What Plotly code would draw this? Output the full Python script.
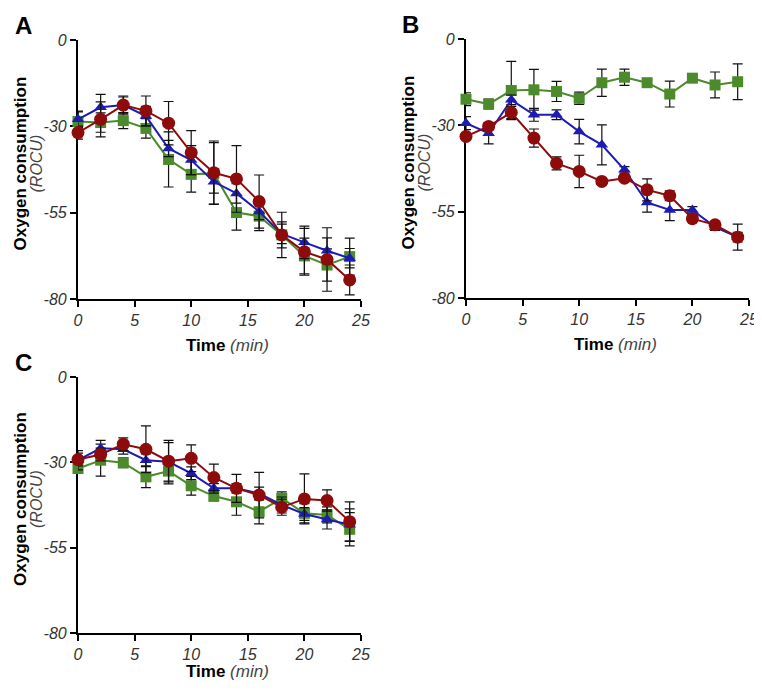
import plotly.graph_objects as go

# the page body keeps its default 8px margin, so the figure sits 8px in;
# keep the page from overflowing the 762x690 window
PAGE_W, PAGE_H, OFFSET = 762, 690, 8
W, H = PAGE_W - OFFSET, PAGE_H - 2 * OFFSET

time_min = [0, 2, 4, 6, 8, 10, 12, 14, 16, 18, 20, 22, 24]

# panel A
a_green = [-25.2, -25.5, -24.9, -27.3, -36.9, -41.5, -41.2, -53.3, -54.4, -60.2, -66.7, -69.5, -66.9]
a_green_err = [3.0, 3.0, 2.5, 3.0, 8.5, 5.5, 9.5, 5.4, 4.5, 4.0, 5.5, 5.0, 5.7]
a_blue = [-24.5, -20.8, -20.1, -23.5, -33.5, -37.1, -43.8, -47.4, -53.0, -59.9, -62.5, -65.1, -67.4]
a_blue_err = [2.5, 4.0, 2.5, 3.0, 2.5, 4.5, 3.5, 3.0, 2.5, 3.0, 5.0, 4.0, 3.0]
a_red = [-28.6, -24.5, -20.1, -21.9, -25.7, -34.8, -41.0, -42.9, -49.9, -60.2, -65.4, -67.8, -74.1]
a_red_err = [2.0, 5.4, 2.8, 4.6, 6.7, 6.8, 9.8, 10.3, 8.2, 7.0, 7.2, 9.8, 4.6]

# panel B
b_green = [-18.6, -20.1, -15.9, -15.7, -16.2, -18.3, -13.5, -11.8, -13.5, -17.0, -12.1, -14.2, -13.2]
b_green_err = [2.0, 1.5, 9.0, 6.3, 3.1, 1.9, 4.2, 2.5, 1.0, 4.0, 1.0, 4.0, 5.5]
b_blue = [-26.0, -29.1, -18.8, -23.4, -23.4, -28.6, -32.7, -40.4, -50.5, -52.8, -52.8, -58.1, -61.2]
b_blue_err = [2.0, 3.3, 1.5, 2.0, 1.5, 3.8, 6.2, 1.0, 3.0, 3.3, 1.0, 1.0, 1.5]
b_red = [-30.1, -27.0, -22.7, -30.6, -38.4, -40.9, -44.0, -43.0, -46.6, -48.4, -55.5, -57.4, -61.2]
b_red_err = [1.0, 1.0, 1.9, 2.8, 2.0, 5.0, 1.0, 1.0, 3.4, 1.5, 1.0, 1.0, 4.0]

# panel C
c_green = [-28.6, -26.0, -26.8, -31.2, -29.4, -34.0, -37.2, -39.0, -42.1, -37.9, -42.6, -43.1, -47.6]
c_green_err = [1.5, 5.0, 1.5, 3.4, 4.0, 2.9, 1.5, 4.2, 3.8, 2.0, 3.0, 2.5, 5.2]
c_blue = [-26.0, -22.3, -22.6, -26.0, -26.5, -30.1, -34.8, -34.8, -36.4, -40.0, -42.8, -44.5, -46.2]
c_blue_err = [3.0, 2.5, 1.5, 2.0, 6.0, 2.0, 1.5, 1.5, 2.0, 2.5, 2.0, 3.0, 5.0]
c_red = [-25.8, -24.2, -21.0, -22.6, -26.3, -25.4, -31.4, -34.8, -36.9, -40.7, -38.1, -38.6, -45.2]
c_red_err = [2.0, 2.0, 2.0, 7.3, 6.5, 4.2, 4.2, 4.4, 7.1, 2.5, 7.8, 3.3, 6.2]

x_ticks = [0, 5, 10, 15, 20, 25]
y_tick_text = ["0", "-30", "-55", "-80"]
y_tick_vals = [0, -80 / 3, -160 / 3, -80]

GREEN = "#4b8b2b"
BLUE = "#1c1cb4"
RED = "#8e0b0b"
FONT = "Liberation Sans, Arial, sans-serif"

# plot areas in page pixels: (left, right, top, bottom), x-title centre y
panels = {
    "A": ((78, 361, 40, 299, 345), (a_green, a_green_err), (a_blue, a_blue_err), (a_red, a_red_err)),
    "B": ((466, 749, 39, 298, 344), (b_green, b_green_err), (b_blue, b_blue_err), (b_red, b_red_err)),
    "C": ((78, 361, 377, 633, 671), (c_green, c_green_err), (c_blue, c_blue_err), (c_red, c_red_err)),
}


def px(x):
    return (x - OFFSET) / W


def py(y):
    return 1 - (y - OFFSET) / H


fig = go.Figure()
annotations = []

for i, (letter, (box, green, blue, red)) in enumerate(panels.items()):
    suffix = "" if i == 0 else str(i + 1)
    xa = "x" + suffix
    ya = "y" + suffix
    left, right, top, bottom, title_y = box
    styles = (
        (green, GREEN, "square", 11),
        (blue, BLUE, "triangle-up", 11),
        (red, RED, "circle", 13),
    )
    for (values, errors), color, symbol, size in styles:
        fig.add_trace(
            go.Scatter(
                x=time_min,
                y=values,
                xaxis=xa,
                yaxis=ya,
                mode="lines+markers",
                line={"color": color, "width": 2},
                marker={"symbol": symbol, "size": size, "color": color},
                error_y={"type": "data", "array": errors, "color": "#111111",
                         "thickness": 1.2, "width": 5},
                cliponaxis=False,
                showlegend=False,
            )
        )
    axis_common = {
        "showline": True,
        "linecolor": "black",
        "linewidth": 2.2,
        "ticks": "outside",
        "ticklen": 6,
        "tickwidth": 2,
        "tickcolor": "black",
        "showgrid": False,
        "zeroline": False,
        "automargin": False,
        "layer": "below traces",
        "tickfont": {"family": FONT, "size": 16, "color": "#333333", "style": "italic"},
    }
    fig.update_layout(
        {
            "xaxis" + suffix: dict(
                axis_common,
                domain=[px(left), px(right)],
                anchor=ya,
                range=[0, 25],
                tickvals=x_ticks,
            ),
            "yaxis" + suffix: dict(
                axis_common,
                domain=[py(bottom), py(top)],
                anchor=xa,
                range=[-80, 0],
                tickvals=y_tick_vals,
                ticktext=y_tick_text,
            ),
        }
    )
    # panel letter
    annotations.append(dict(
        text=f"<b>{letter}</b>", x=px(left - 55), y=py(top - 15), xref="paper", yref="paper",
        xanchor="center", yanchor="middle", showarrow=False,
        font={"family": FONT, "size": 24, "color": "black"},
    ))
    mid_y = (top + bottom) / 2 - 6
    annotations.append(dict(
        text="<b>Oxygen consumption</b>", x=px(left - 58), y=py(mid_y), xref="paper", yref="paper",
        xanchor="center", yanchor="middle", showarrow=False, textangle=-90,
        font={"family": FONT, "size": 17, "color": "black"},
    ))
    annotations.append(dict(
        text="(ROCU)", x=px(left - 42), y=py(mid_y), xref="paper", yref="paper",
        xanchor="center", yanchor="middle", showarrow=False, textangle=-90,
        font={"family": FONT, "size": 16, "color": "#444444", "style": "italic"},
    ))
    annotations.append(dict(
        text="<b>Time</b> <i><span style='color:#444444'>(min)</span></i>",
        x=px((left + right) / 2 + 8), y=py(title_y), xref="paper", yref="paper",
        xanchor="center", yanchor="middle", showarrow=False,
        font={"family": FONT, "size": 17, "color": "black"},
    ))

fig.update_layout(
    width=W,
    height=H,
    margin={"l": 0, "r": 0, "t": 0, "b": 0},
    paper_bgcolor="white",
    plot_bgcolor="white",
    annotations=annotations,
)

fig.write_html("out.html")
